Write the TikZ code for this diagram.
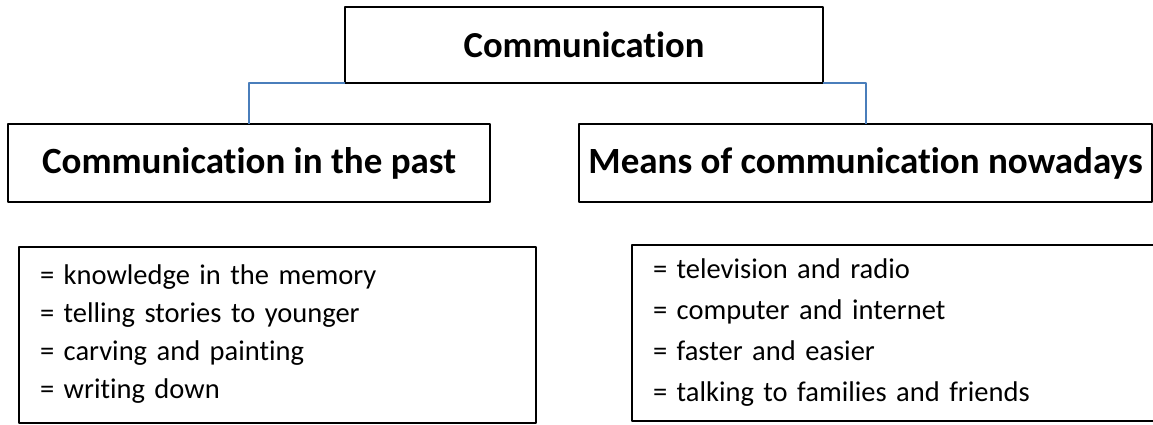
\documentclass[tikz,border=0pt]{standalone}
\usepackage{fontspec}
\setmainfont{Carlito}[Ligatures={NoCommon,NoContextual}]
\definecolor{linkblue}{RGB}{74,126,187}
\begin{document}
\begin{tikzpicture}[x=1pt, y=-1pt, line join=round,
		box/.style={draw, line width=2pt, inner sep=0pt, outer sep=0pt},
		head/.style={box, font=\fontsize{37}{44}\selectfont\bfseries, minimum height=78pt},
		list/.style={box, align=left, inner xsep=21pt, minimum height=176pt},
		link/.style={draw=linkblue, line width=2pt}]
	\useasboundingbox (0,0) rectangle (1153,424);
	%tieu de
	\node[box, minimum width=478pt, minimum height=76pt, font=\fontsize{36.6}{44}\selectfont\bfseries] (comm) at (584,45) {Communication};
	%hai nhanh
	\node[head, minimum width=482pt] (past) at (249,163) {Communication in the past};
	\node[head, minimum width=573pt] (now) at (865.5,163) {Means of communication nowadays};
	\draw[link] (comm.south west) -| (past.north);
	\draw[link] (comm.south east) -| (now.north);
	%danh sach
	\node[list, text width=475pt, font=\fontsize{28.5}{38}\selectfont] (pastlist) at (277.5,334.5)
	{= knowledge in the memory\\ = telling stories to younger\\ = carving and painting\\ = writing down};
	\node[list, text width=491pt, font=\fontsize{28.5}{41}\selectfont] (nowlist) at (898.5,332.5)
	{= television and radio\\ = computer and internet\\ = faster and easier\\ = talking to families and friends};
\end{tikzpicture}
\end{document}
